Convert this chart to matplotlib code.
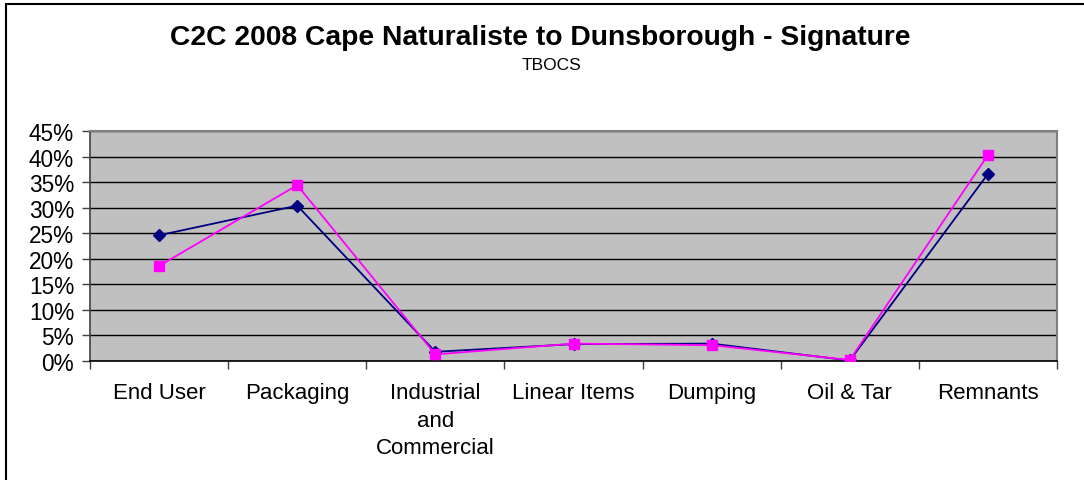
import matplotlib
matplotlib.use("Agg")
import matplotlib.pyplot as plt
from matplotlib.patches import Rectangle
from matplotlib.ticker import FuncFormatter, FixedLocator
import numpy as np

categories = ["End User", "Packaging", "Industrial\nand\nCommercial", "Linear Items",
              "Dumping", "Oil & Tar", "Remnants"]
series_blue = [0.246, 0.304, 0.018, 0.033, 0.034, 0.001, 0.366]
series_pink = [0.186, 0.344, 0.013, 0.034, 0.031, 0.002, 0.403]
y_ticks = [0.0, 0.05, 0.10, 0.15, 0.20, 0.25, 0.30, 0.35, 0.40, 0.45]
title = "C2C 2008 Cape Naturaliste to Dunsborough - Signature"
subtitle = "TBOCS"

plt.rcParams['font.family'] = ['Liberation Sans', 'DejaVu Sans']

W, H = 1084, 481
fig = plt.figure(figsize=(W / 100, H / 100), dpi=100)

# outer chart border (left and top visible)
fig.patches.append(Rectangle((6 / W, -0.1), 1.2, (H - 5) / H + 0.1, transform=fig.transFigure,
                             fill=False, edgecolor='black', linewidth=1.5))

left, right, top, bottom = 90, 1057, 132, 362
ax = fig.add_axes([left / W, (H - bottom) / H, (right - left) / W, (bottom - top) / H])
ax.set_facecolor('#C0C0C0')

x = np.arange(len(categories))
ax.plot(x, series_blue, color='#000080', marker='D', markersize=6, linewidth=1.3, zorder=3)
ax.plot(x, series_pink, color='#FF00FF', marker='s', markersize=7, linewidth=1.3, zorder=4)

ax.set_xlim(-0.5, len(categories) - 0.5)
ax.set_ylim(0, 0.45)
ax.set_yticks(y_ticks)
ax.yaxis.set_major_formatter(FuncFormatter(lambda v, p: f"{v*100:.0f}%"))
ax.tick_params(axis='y', direction='out', length=6, width=1, color='#404040',
               labelsize=16.3, pad=5.5)
ax.yaxis.grid(True, color='black', linewidth=1)
ax.set_axisbelow(True)

ax.xaxis.set_major_locator(FixedLocator(np.arange(-0.5, len(categories), 1.0)))
ax.xaxis.set_major_formatter(FuncFormatter(lambda v, p: ""))
ax.xaxis.set_minor_locator(FixedLocator(x))
ax.set_xticklabels(categories, minor=True)
ax.tick_params(axis='x', which='major', direction='out', length=6, width=1, color='#404040')
ax.tick_params(axis='x', which='minor', length=0, labelsize=16, pad=15)
for lbl in ax.get_xticklabels(minor=True):
    lbl.set_linespacing(1.42)

for s in ['top', 'right']:
    ax.spines[s].set_color('#808080')
    ax.spines[s].set_linewidth(1.5)
ax.spines['left'].set_color('#404040')
ax.spines['left'].set_linewidth(1.2)
ax.spines['bottom'].set_color('black')
ax.spines['bottom'].set_linewidth(1.2)

fig.text(540 / W, 1 - 38 / H, title, ha='center', va='center', fontsize=20.3, fontweight='bold')
fig.text(551 / W, 1 - 66 / H, subtitle, ha='center', va='center', fontsize=12.5)

fig.savefig("out.png", dpi=100)
